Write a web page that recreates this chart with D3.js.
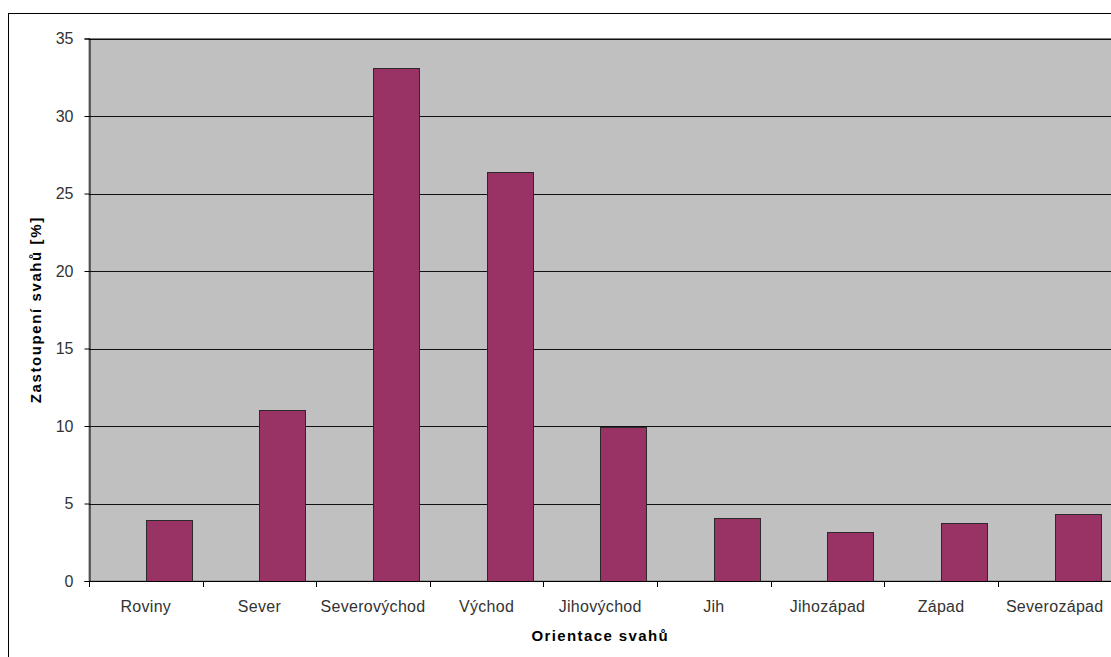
<!DOCTYPE html>
<html><head><meta charset="utf-8">
<script src="https://cdn.jsdelivr.net/npm/d3@7"></script>
<style>html,body{margin:0;padding:0;background:#fff;overflow:hidden}</style>
</head><body>
<script>
const categories = ["Roviny","Sever","Severovýchod","Východ","Jihovýchod","Jih","Jihozápad","Západ","Severozápad"];
const values = [3.94, 11.03, 33.1, 26.4, 9.95, 4.06, 3.16, 3.74, 4.32];
const yTicks = [0,5,10,15,20,25,30,35];
const yTitle = "Zastoupení svahů [%]";
const xTitle = "Orientace svahů";

(function () {
const W = 1111, H = 657;
const svg = d3.select("body").append("svg").attr("width", W).attr("height", H);
const font = "'Liberation Sans', Arial, sans-serif";

// outer chart border (cut off at right/bottom)
svg.append("rect").attr("x", 8.5).attr("y", 13.5).attr("width", 1200).attr("height", 700)
  .attr("fill", "#fff").attr("stroke", "#000").attr("stroke-width", 1);

const pL = 89, pR = 1111.5, pT = 38.5, pB = 581;
const x = d3.scaleBand().domain(categories).range([pL, pR]).padding(0);
const y = d3.scaleLinear().domain([0, 35]).range([pB, pT]);

// plot area
svg.append("rect").attr("x", pL).attr("y", pT).attr("width", pR - pL + 5).attr("height", pB - pT)
  .attr("fill", "#c0c0c0").attr("stroke", "#808080").attr("stroke-width", 1);

// gridlines
svg.append("g").selectAll("line").data(yTicks.filter(d => d > 0)).join("line")
  .attr("x1", pL).attr("x2", W)
  .attr("y1", d => Math.round(y(d)) + 0.5).attr("y2", d => Math.round(y(d)) + 0.5)
  .attr("stroke", "#111").attr("stroke-width", 1);

// bars
const bw = 46;
svg.append("g").selectAll("rect").data(values).join("rect")
  .attr("x", (d, i) => Math.round(x(categories[i]) + x.bandwidth() / 2) + 0.5)
  .attr("y", d => Math.round(y(d)) + 0.5)
  .attr("width", bw)
  .attr("height", d => Math.round(y(0)) - Math.round(y(d)))
  .attr("fill", "#993366").attr("stroke", "#2a2a2a").attr("stroke-width", 1);

// y axis
const yAxis = d3.axisLeft(y).tickValues(yTicks).tickSize(5).tickPadding(11).tickFormat(d3.format("d"));
const gy = svg.append("g").attr("transform", `translate(${pL + 0.5},0)`).call(yAxis);
gy.select(".domain").attr("stroke", "#000");
gy.selectAll(".tick line").attr("stroke", "#000");
gy.selectAll(".tick text").attr("font-family", font).attr("font-size", 16).attr("fill", "#333");

// x axis
const bounds = d3.range(categories.length + 1).map(i => pL + i * x.bandwidth());
svg.append("line").attr("x1", pL).attr("x2", W).attr("y1", pB + 0.5).attr("y2", pB + 0.5)
  .attr("stroke", "#000");
svg.append("g").selectAll("line").data(bounds).join("line")
  .attr("x1", d => Math.round(d) + 0.5).attr("x2", d => Math.round(d) + 0.5)
  .attr("y1", pB).attr("y2", pB + 6).attr("stroke", "#000");
svg.append("g").selectAll("text").data(categories).join("text")
  .attr("x", d => x(d) + x.bandwidth() / 2)
  .attr("y", 612)
  .attr("text-anchor", "middle")
  .attr("font-family", font).attr("font-size", 16).attr("letter-spacing", "0.3px")
  .attr("fill", "#333").text(d => d);

// titles
svg.append("text").attr("x", (pL + pR) / 2).attr("y", 641).attr("text-anchor", "middle")
  .attr("font-family", font).attr("font-size", 15).attr("font-weight", "bold").attr("letter-spacing", "1.4px")
  .attr("fill", "#000").text(xTitle);
svg.append("text").attr("transform", `translate(41,${(pT + pB) / 2}) rotate(-90)`)
  .attr("text-anchor", "middle")
  .attr("font-family", font).attr("font-size", 15).attr("font-weight", "bold").attr("letter-spacing", "1.6px")
  .attr("fill", "#000").text(yTitle);
})();
</script>
</body></html>
